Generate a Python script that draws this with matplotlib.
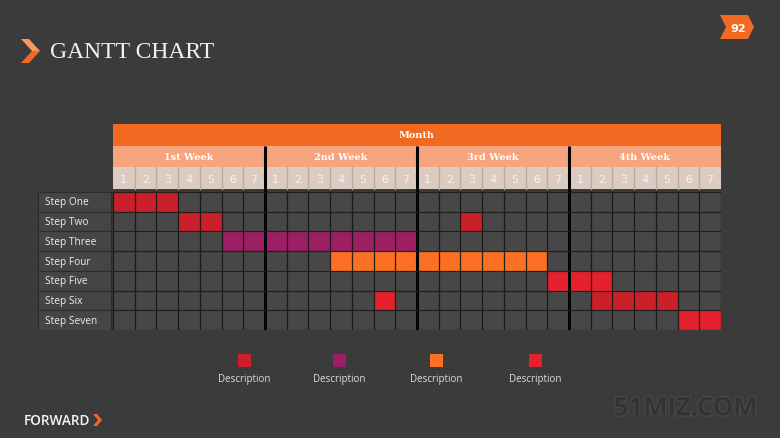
import matplotlib.pyplot as plt
import matplotlib.patheffects as pe
from matplotlib.patches import Rectangle, Polygon

# ---- data ----
steps = ["Step One", "Step Two", "Step Three", "Step Four", "Step Five", "Step Six", "Step Seven"]
weeks = ["1st Week", "2nd Week", "3rd Week", "4th Week"]
day_labels = ["1", "2", "3", "4", "5", "6", "7"]

task_row = [0, 1, 1, 2, 3, 4, 5, 5, 6]
task_start = [0, 3, 16, 5, 10, 20, 12, 22, 26]
task_days = [3, 2, 1, 9, 10, 3, 1, 4, 2]
task_kind = [0, 0, 0, 1, 2, 3, 3, 0, 3]

kind_colors = ["#C9202A", "#9B1F62", "#FB7023", "#E4222E"]
legend_labels = ["Description", "Description", "Description", "Description"]

BG = "#3b3b3b"
CELL = "#474747"
ORANGE = "#F26A22"

W, H = 780, 439
fig = plt.figure(figsize=(W / 100, H / 100), dpi=100, facecolor=BG)

# overlay in pixel coords for page decoration
deco = fig.add_axes([0, 0, 1, 1])
deco.set_xlim(0, W)
deco.set_ylim(H, 0)
deco.axis("off")
deco.set_facecolor(BG)

# title with chevron
deco.add_patch(Polygon([(21, 40), (29, 40), (40, 52), (32, 52)], closed=True, color="#F7985C", lw=0))
deco.add_patch(Polygon([(32, 52), (40, 52), (29, 64), (21, 64)], closed=True, color=ORANGE, lw=0))
deco.text(50, 53, "GANTT CHART", color="#f2f2f2", fontsize=17, family="Liberation Serif",
          va="center", ha="left")

# page number badge
deco.add_patch(Polygon([(720, 16), (748, 16), (754, 28), (748, 40), (720, 40), (726, 28)],
                       closed=True, color=ORANGE, lw=0))
deco.text(738, 29, "92", color="white", fontsize=8, fontweight="bold", ha="center", va="center")

# footer
deco.text(24, 421, "FORWARD", color="#f5f5f5", fontsize=9.8, fontweight="semibold", family="Open Sans",
          ha="left", va="center")
deco.add_patch(Polygon([(93, 415), (97, 415), (102, 421), (97, 427), (93, 427), (98, 421)],
                       closed=True, color=ORANGE, lw=0))
deco.text(686, 409, "51MIZ.COM", color="#333333", fontsize=18.5, fontweight="bold", family="Open Sans",
          ha="center", va="center",
          path_effects=[pe.withStroke(linewidth=1.5, foreground="#4a4a4a")])

# ---- gantt axes: columns are days, rows are steps ----
ncol = len(weeks) * len(day_labels)
nrow = len(steps)
x0, x1 = -3.45, ncol
y_top, y_bot = -3.45, nrow
ax = fig.add_axes([38 / W, 1 - 331 / H, (721 - 38) / W, (331 - 125) / H])
ax.set_xlim(x0, x1)
ax.set_ylim(y_bot, y_top)
ax.axis("off")

month_y, week_y, day_y, day_b = -3.45, -2.34, -1.27, -0.15

# headers
ax.add_patch(Rectangle((0, month_y), ncol, week_y - month_y, color=ORANGE, lw=0))
ax.add_patch(Rectangle((0, week_y), ncol, day_y - week_y, color="#F5A47E", lw=0))
ax.add_patch(Rectangle((0, day_y), ncol, day_b - day_y, color="#DCCBC0", lw=0))
ax.text(ncol / 2, (month_y + week_y) / 2, "Month", color="white", fontsize=7, fontweight="bold",
        family="DejaVu Serif", ha="center", va="center")
for i, wk in enumerate(weeks):
    ax.text(i * 7 + 3.5, (week_y + day_y) / 2, wk, color="white", fontsize=7, fontweight="bold",
            family="DejaVu Serif", ha="center", va="center")
for c in range(ncol):
    ax.text(c + 0.5, (day_y + day_b) / 2 + 0.03, day_labels[c % 7], color="#f6f1ee", fontsize=8,
            ha="center", va="center")
    if c > 0:
        ax.plot([c, c], [day_y, day_b], color="#b9a89d", lw=0.9)

# label column
for r, name in enumerate(steps):
    ax.add_patch(Rectangle((x0, r), -0.1 - x0, 1, facecolor="#454545", edgecolor="#2c2c2c", lw=0.8))
    ax.text(x0 + 0.33, r + 0.5, name, color="#eeeeee", fontsize=7.3, family="Open Sans",
            ha="left", va="center")

# grid body
ax.add_patch(Rectangle((0, 0), ncol, nrow, color=CELL, lw=0))
ax.barh([r + 0.5 for r in task_row], task_days, left=task_start, height=1,
        color=[kind_colors[k] for k in task_kind], lw=0)

for c in range(ncol + 1):
    if c % 7 == 0 and 0 < c < ncol:
        ax.plot([c, c], [week_y, nrow], color="black", lw=2.2, solid_capstyle="butt")
    else:
        ax.plot([c, c], [0, nrow], color="#151515", lw=0.9, alpha=0.9)
for r in range(nrow + 1):
    ax.plot([0, ncol], [r, r], color="#1c1c1c", lw=0.9, alpha=0.9)

# legend squares under the chart
leg = fig.add_axes([0, 0, 1, 1], facecolor="none")
leg.set_xlim(0, W)
leg.set_ylim(H, 0)
leg.axis("off")
leg_x = [244, 339, 436, 535]
for xc, col, lab in zip(leg_x, kind_colors, legend_labels):
    leg.add_patch(Rectangle((xc - 6.5, 355), 13, 13, color=col, lw=0))
    leg.text(xc, 380, lab, color="#dddddd", fontsize=7, family="Open Sans", ha="center", va="center")

fig.savefig("out.png", dpi=100, facecolor=BG)
